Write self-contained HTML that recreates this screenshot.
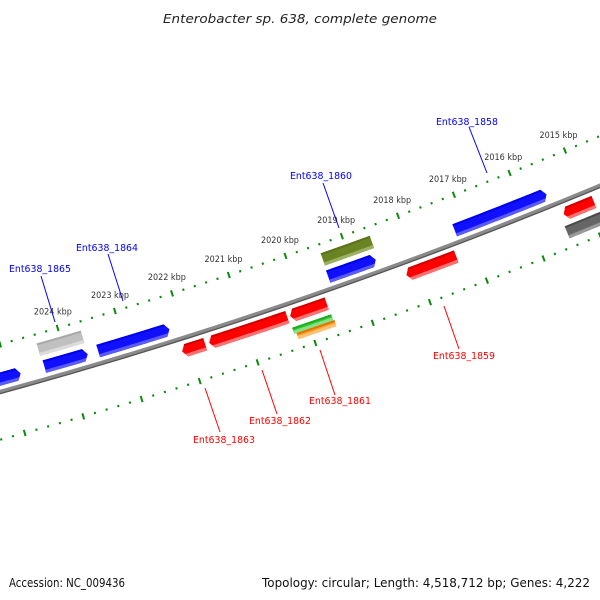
<!DOCTYPE html>
<html><head><meta charset="utf-8"><style>
html,body{margin:0;padding:0;background:#fff;}
svg{display:block;}
</style></head><body>
<svg id="map" xmlns="http://www.w3.org/2000/svg" width="600" height="600" viewBox="0 0 600 600">
<rect x="0" y="0" width="600" height="600" fill="#fff"/>
<text x="300" y="23" text-anchor="middle" font-family="DejaVu Sans, sans-serif" font-style="italic" font-size="12" fill="#222" textLength="274" lengthAdjust="spacingAndGlyphs">Enterobacter sp. 638, complete genome</text>
<g id="ticks"></g>
<g id="backbone"></g>
<g id="genes"></g>
<g id="labels"></g>
<text x="9" y="587" font-family="DejaVu Sans, sans-serif" font-size="12" fill="#111" textLength="116" lengthAdjust="spacingAndGlyphs">Accession: NC_009436</text>
<text x="262" y="587" font-family="DejaVu Sans, sans-serif" font-size="12" fill="#111" textLength="328" lengthAdjust="spacingAndGlyphs">Topology: circular; Length: 4,518,712 bp; Genes: 4,222</text>
</svg>
<script>
// ---- data ----
var majorTicks = [2014,2015,2016,2017,2018,2019,2020,2021,2022,2023,2024,2025,2026];
var tickLabels = ["2015 kbp","2016 kbp","2017 kbp","2018 kbp","2019 kbp","2020 kbp","2021 kbp","2022 kbp","2023 kbp","2024 kbp"];
var tickLabelKbp = [2015,2016,2017,2018,2019,2020,2021,2022,2023,2024];
var geneNames  = ["blue-left","gray-a","Ent638_1865","Ent638_1864","Ent638_1863","Ent638_1862","Ent638_1861","green-a","orange-a","olive-a","Ent638_1860","Ent638_1859","Ent638_1858","red-right","gray-right"];
var geneStart  = [2025.8,2024.41,2024.39,2023.46,2022.13,2021.66,2020.25,2020.28,2020.24,2019.43,2019.44,2018.21,2017.20,2015.42,2015.48];
var geneEnd    = [2024.80,2023.64,2023.64,2022.22,2021.73,2020.30,2019.61,2019.60,2019.58,2018.56,2018.60,2017.33,2015.56,2014.88,2014.3];
var geneStrand = [1,0,1,1,-1,-1,-1,0,0,0,1,-1,1,-1,0];
var geneLevel  = [1,2,1,1,1,1,1,2,3,2,1,1,1,1,23];
var geneColor  = ["blue","gray","blue","blue","red","red","red","green","orange","olive","blue","red","blue","red","dgray"];
var labelNames = ["Ent638_1865","Ent638_1864","Ent638_1860","Ent638_1858","Ent638_1863","Ent638_1862","Ent638_1861","Ent638_1859"];
var labelColors= ["#0000ff","#0000ff","#0000ff","#0000ff","#ff0000","#ff0000","#ff0000","#ff0000"];

// ---- geometry (scale functions) ----
var CX=-1322, CY=-4430;
function angle(kbp){ return (73.83 - (2024-kbp)*0.691)*Math.PI/180; }
function pt(kbp,r){ var a=angle(kbp); return [CX+r*Math.cos(a), CY+r*Math.sin(a)]; }
function P(p){ return p[0].toFixed(2)+","+p[1].toFixed(2); }
var NS="http://www.w3.org/2000/svg";
function mk(tag,attrs,parent){ var e=document.createElementNS(NS,tag); for(var k in attrs) e.setAttribute(k,attrs[k]); parent.appendChild(e); return e; }
function arcPath(k1,k2,r){ var s="",n=30; for(var i=0;i<=n;i++){ var k=k1+(k2-k1)*i/n; s+=(i?"L":"M")+P(pt(k,r)); } return s; }

// ---- ticks ----
var tg=document.getElementById('ticks');
var rUp=4954, rLo=5046;
for (var t=Math.round(2014*5); t<=Math.round(2026*5); t++){
  var kb=t/5, major=(t%5===0);
  [rUp,rLo].forEach(function(r,idx){
    var h=major?3.2:1.1;
    var a=pt(kb,r-h), b=pt(kb,r+h);
    var ln=mk('line',{x1:a[0],y1:a[1],x2:b[0],y2:b[1],stroke:"#0a8a0a","stroke-width":major?2:2},tg);
    
    
  });
}
for (var i=0;i<tickLabels.length;i++){
  var p=pt(tickLabelKbp[i],4937);
  var tx=mk('text',{x:p[0],y:p[1]+3,"text-anchor":"middle","font-family":"DejaVu Sans, sans-serif","font-size":"8.5",fill:"#333",textLength:"38",lengthAdjust:"spacingAndGlyphs"},tg);
  tx.textContent=tickLabels[i];
  
  
}

// ---- backbone ----
var bb=document.getElementById('backbone');
var b1=mk('path',{d:arcPath(2014,2026.5,5000),fill:"none",stroke:"#8a8a8a","stroke-width":4.5},bb);


var b2=mk('path',{d:arcPath(2014,2026.5,5001.5),fill:"none",stroke:"#555","stroke-width":1.2},bb);



// ---- genes ----
var palette={blue:["#0000e6","#1010ff","#5a5aff"],red:["#d00000","#ff0000","#ff7070"],gray:["#a8a8a8","#c0c0c0","#dcdcdc"],
  dgray:["#4a4a4a","#666","#999"],olive:["#5a701a","#6b8423","#9bb060"],green:["#22aa22","#33cc33","#88e088"],orange:["#dd7700","#ff9922","#ffc070"]};
var bands={"1":[4981,4994],"-1":[5006,5019]};
function bandOf(i){
  var s=geneStrand[i], l=geneLevel[i];
  if(s===1) return [4981,4994];
  if(s===-1) return [5006,5019];
  if(l===2 && geneColor[i]==="gray") return [4963,4976];
  if(l===2 && geneColor[i]==="olive") return [4963,4976];
  if(l===2) return [5024,5030.5];
  if(l===3) return [5030.5,5037];
  return [5024,5037];
}
var gg=document.getElementById('genes');
for (var i=0;i<geneNames.length;i++){
  var bd=bandOf(i), r0=bd[0], r1=bd[1], rm=(r0+r1)/2;
  var s=geneStart[i], e=geneEnd[i], st=geneStrand[i];
  var tip=0.07; // kbp
  var g=mk('g',{},gg);
  
  
  var d;
  if(st===1){ // arrow pointing to end (right)
    d=arcPath(s,e+tip,r0).replace(/^M/,"M")+"L"+P(pt(e,rm))+arcPath(e+tip,s,r1).replace(/^M/,"L")+"Z";
  } else if(st===-1){ // arrow pointing to start (left)
    d="M"+P(pt(s,rm))+arcPath(s-tip,e,r0).replace(/^M/,"L")+arcPath(e,s-tip,r1).replace(/^M/,"L")+"Z";
  } else {
    d=arcPath(s,e,r0)+arcPath(e,s,r1).replace(/^M/,"L")+"Z";
  }
  var c=palette[geneColor[i]];
  var clipId='clip'+i;
  var cp=mk('clipPath',{id:clipId},g); mk('path',{d:d},cp);
  var body=mk('path',{d:d,fill:c[1]},g);
  
  
  var hl=mk('path',{d:arcPath(s+0.3,e-0.3,r1-1.6),fill:"none",stroke:c[2],"stroke-width":3.2,"clip-path":"url(#"+clipId+")"},g);
  
  
  var sh=mk('path',{d:arcPath(s+0.3,e-0.3,r0+1),fill:"none",stroke:c[0],"stroke-width":2,"clip-path":"url(#"+clipId+")"},g);
  
  
}

// ---- gene labels (annotation positions) ----
var labelPos=[[9,272,41,276,55,322],[76,251,108,254,123,301],[290,179,323,183,339,228],[436,125,469,127,487,173],
  [193,443,220,432,205,388],[249,424,277,414,262,370],[309,404,335,395,320,350],[433,359,459,349,444,306]];
var lg=document.getElementById('labels');
for (var i=0;i<labelNames.length;i++){
  var q=labelPos[i];
  var ln=mk('line',{x1:q[2],y1:q[3],x2:q[4],y2:q[5],stroke:labelColors[i],"stroke-width":1},lg);
  
  
  var tx=mk('text',{x:q[0],y:q[1],"font-family":"DejaVu Sans, sans-serif","font-size":"10",fill:labelColors[i],textLength:"62",lengthAdjust:"spacingAndGlyphs"},lg);
  tx.textContent=labelNames[i];
  
  
}
</script>
</body></html>
